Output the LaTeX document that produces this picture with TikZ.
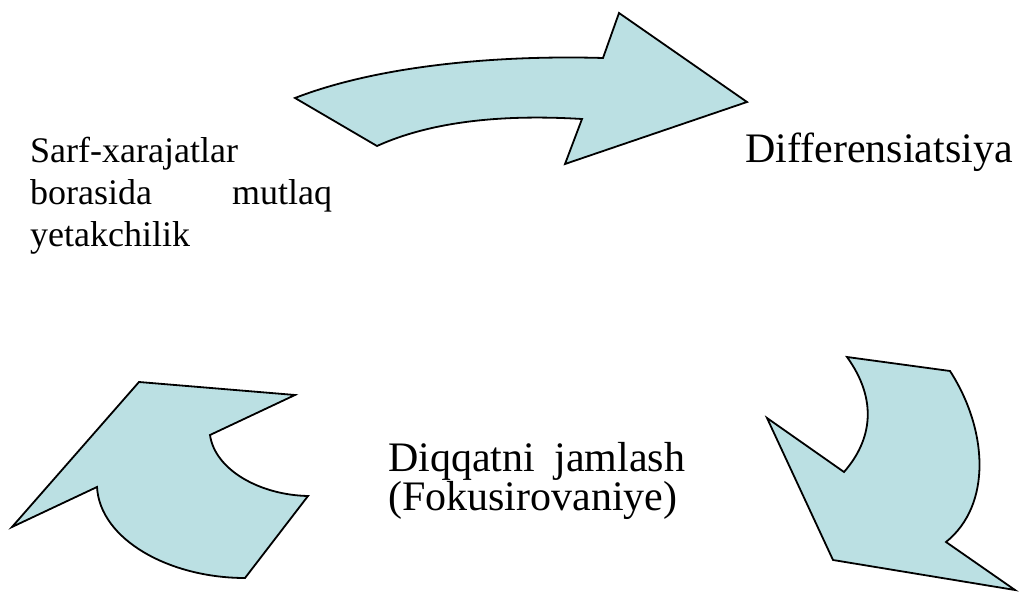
\documentclass[tikz,border=0pt]{standalone}
\usepackage{fontspec}
\setmainfont{Liberation Serif}
\usepackage{xcolor}
\usetikzlibrary{positioning}
\definecolor{arrowfill}{RGB}{187,224,227}

\begin{document}
\begin{tikzpicture}[x=1pt, y=-1pt]
    % Define styles
    \tikzstyle{bigarrow} = [draw=black, fill=arrowfill, line width=1.8pt, line join=miter]
    \tikzstyle{bigtext} = [inner sep=0pt, anchor=base west, font=\fontsize{42}{36}\selectfont]
    \tikzstyle{smalltext} = [inner sep=0pt, anchor=base west, font=\fontsize{36}{42}\selectfont]
    \useasboundingbox (0,0) rectangle (1022,593);

    % Nodes
    \node [smalltext, text width=302pt, align=left] (sarf) at (30,163) {Sarf-xarajatlar\\borasida\hfill mutlaq\\yetakchilik};
    \node [bigtext] (diff) at (745,163) {Differensiatsiya};
    \node [bigtext, text width=297pt, align=left] (diqqat) at (388,471) {Diqqatni\hfill jamlash\\(Fokusirovaniye)};

    % Arrows
    \draw [bigarrow] (295,98) .. controls (380,65) and (500,55) .. (603,58)
        -- (619,13) -- (747,102) -- (565,164) -- (582,119)
        .. controls (500,114) and (430,122) .. (377,146) -- cycle;
    \draw [bigarrow] (847,357) -- (950,371)
        .. controls (988,430) and (992,505) .. (946,542)
        -- (1015,590) -- (833,560) -- (767,418) -- (844,472)
        .. controls (872,440) and (878,400) .. cycle;
    \draw [bigarrow] (139,382) -- (295,395) -- (210,435)
        .. controls (215,470) and (260,495) .. (308,496)
        -- (245,578) .. controls (170,578) and (100,540) .. (97,487)
        -- (12,527) -- cycle;
\end{tikzpicture}
\end{document}
